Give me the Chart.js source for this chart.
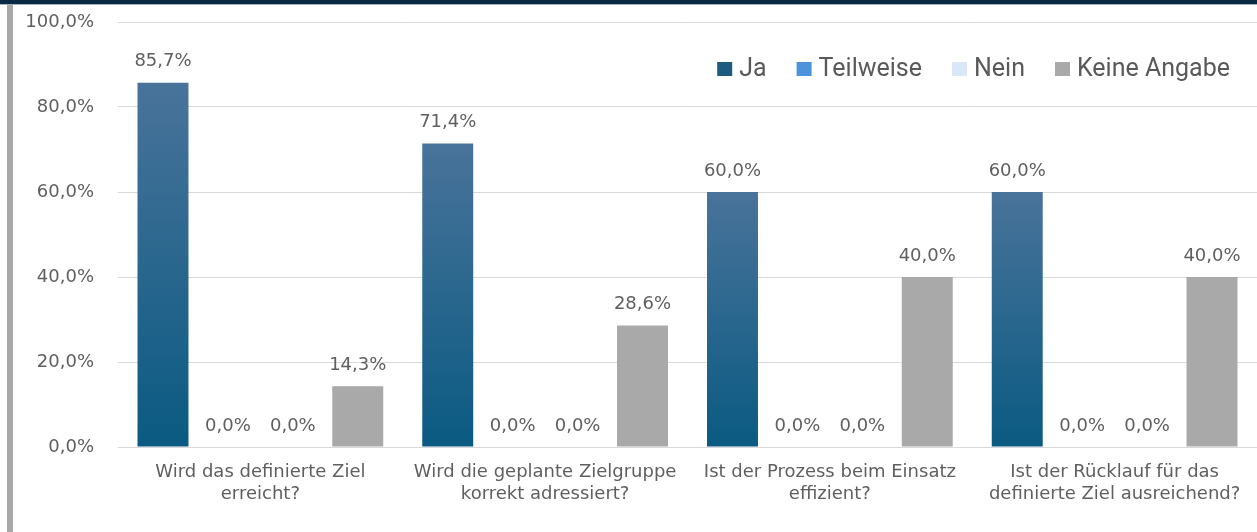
<!DOCTYPE html>
<html>
<head>
<meta charset="utf-8">
<script src="https://cdn.jsdelivr.net/npm/chart.js@4/dist/chart.umd.min.js"></script>
<style>
    html, body { margin: 0; padding: 0; background: #fff; }
    #wrap { position: relative; width: 1257px; height: 532px; overflow: hidden; }
    #topband { position: absolute; left: 0; top: 0; width: 1257px; height: 4px; background: #0a2a44; border-bottom: 1px solid #9fb0c0; }
    #sidebar { position: absolute; left: 7px; top: 5px; width: 6px; height: 527px; background: #a8a8a8; }
    #chartBox { position: absolute; left: 0; top: 0; width: 1257px; height: 532px; }
</style>
</head>
<body>
<div id="wrap">
    <div id="chartBox"><canvas id="surveyChart"></canvas></div>
    <div id="topband"></div>
    <div id="sidebar"></div>
</div>
<script>
const categories = [
    ["Wird das definierte Ziel", "erreicht?"],
    ["Wird die geplante Zielgruppe", "korrekt adressiert?"],
    ["Ist der Prozess beim Einsatz", "effizient?"],
    ["Ist der Rücklauf für das", "definierte Ziel ausreichend?"]
];

const seriesNames = ["Ja", "Teilweise", "Nein", "Keine Angabe"];

const jaValues = [85.7, 71.4, 60.0, 60.0];
const teilweiseValues = [0, 0, 0, 0];
const neinValues = [0, 0, 0, 0];
const keineAngabeValues = [14.3, 28.6, 40.0, 40.0];

const yTicks = [0, 20, 40, 60, 80, 100];

const legendColors = ["#1d5b80", "#4c93dc", "#dae8f6", "#a9a9a9"];

const textColor = "#5f5f5f";
const axisFont = "'DejaVu Sans', sans-serif";

function pct(v) {
    return v.toFixed(1).replace(".", ",") + "%";
}

// Ja bars: lighter at the top, darker at the base, per bar
function jaFill(c) {
    const chart = c.chart;
    const y = chart.scales.y;
    if (c.dataIndex === undefined || !y || !chart.chartArea) return legendColors[0];

    const top = y.getPixelForValue(c.raw);
    const bottom = y.getPixelForValue(0);
    if (bottom - top < 1) return "#0b5b82";

    const g = chart.ctx.createLinearGradient(0, top, 0, bottom);
    g.addColorStop(0, "#49739a");
    g.addColorStop(1, "#0a5a82");
    return g;
}

const valueLabels = {
    id: "valueLabels",
    afterDatasetsDraw(chart) {
        const ctx = chart.ctx;
        ctx.save();
        ctx.font = "18px " + axisFont;
        ctx.fillStyle = textColor;
        ctx.textAlign = "center";
        ctx.textBaseline = "middle";

        chart.data.datasets.forEach((ds, i) => {
            const meta = chart.getDatasetMeta(i);
            meta.data.forEach((bar, j) => {
                ctx.fillText(pct(ds.data[j]), bar.x, bar.y - 21);
            });
        });

        ctx.restore();
    }
};

// legend sits inside the plot, top right
const insideLegend = {
    id: "insideLegend",
    afterDraw(chart) {
        const ctx = chart.ctx;
        const right = chart.chartArea.right - 27;
        const midY = chart.chartArea.top + 47;
        const box = 15, gap = 7, spacing = 30;

        ctx.save();
        ctx.font = "25px Roboto";
        ctx.textBaseline = "middle";
        ctx.textAlign = "left";

        const names = chart.data.datasets.map(d => d.label);
        const widths = names.map(n => ctx.measureText(n).width);
        let total = 0;
        widths.forEach(w => total += box + gap + w);
        total += spacing * (names.length - 1);

        let x = right - total;
        names.forEach((n, i) => {
            ctx.fillStyle = legendColors[i];
            ctx.fillRect(x, midY - 7, box, 14);
            ctx.fillStyle = "#595959";
            ctx.fillText(n, x + box + gap, midY + 1);
            x += box + gap + widths[i] + spacing;
        });

        ctx.restore();
    }
};

new Chart(document.getElementById("surveyChart"), {
    type: "bar",
    data: {
        labels: categories,
        datasets: [
            { label: seriesNames[0], data: jaValues, backgroundColor: jaFill },
            { label: seriesNames[1], data: teilweiseValues, backgroundColor: legendColors[1] },
            { label: seriesNames[2], data: neinValues, backgroundColor: legendColors[2] },
            { label: seriesNames[3], data: keineAngabeValues, backgroundColor: legendColors[3] }
        ]
    },
    options: {
        responsive: true,
        maintainAspectRatio: false,
        animation: false,
        events: [],
        layout: { padding: { top: 22, left: 0, right: 0, bottom: 0 } },
        datasets: {
            bar: { categoryPercentage: 0.912, barPercentage: 0.785 }
        },
        scales: {
            x: {
                grid: { display: false },
                border: { display: false },
                ticks: {
                    color: textColor,
                    font: { family: axisFont, size: 18, lineHeight: 1.2 },
                    padding: 7,
                    maxRotation: 0,
                    autoSkip: false
                },
                afterFit(scale) { scale.height = 85; }
            },
            y: {
                min: 0,
                max: 100,
                afterBuildTicks(scale) {
                    scale.ticks = yTicks.map(v => ({ value: v }));
                },
                grid: { color: "#d9d9d9", lineWidth: 1, drawTicks: false },
                border: { display: false },
                ticks: {
                    color: textColor,
                    font: { family: axisFont, size: 18 },
                    padding: 24,
                    callback: v => pct(v)
                },
                afterFit(scale) {
                    scale.width = 118;
                    scale.paddingTop = 0;
                    scale.paddingBottom = 0;
                }
            }
        },
        plugins: {
            tooltip: { enabled: false },
            legend: { display: false }
        }
    },
    plugins: [valueLabels, insideLegend]
});
</script>
</body>
</html>
